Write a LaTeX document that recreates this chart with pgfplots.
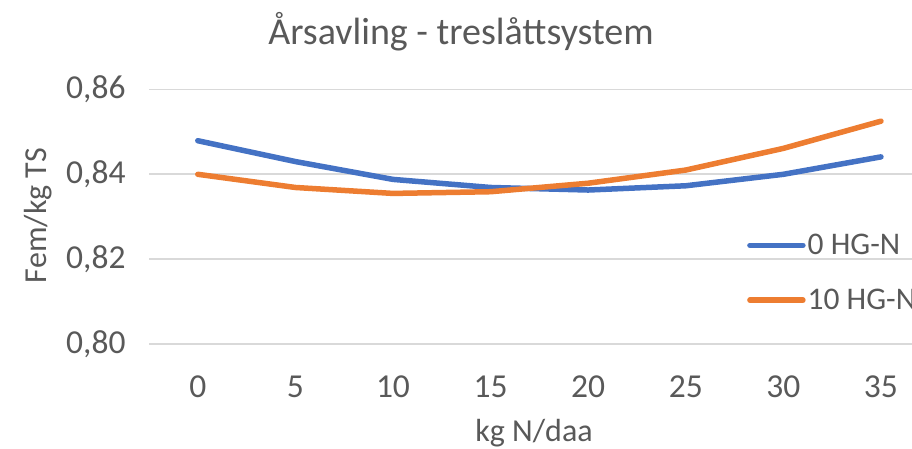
\documentclass[border=0pt]{standalone}
\usepackage{fontspec}
\setmainfont{Carlito}
\usepackage{pgfplots}
\pgfplotsset{compat=1.18}
\definecolor{xlblue}{HTML}{4472C4}
\definecolor{xlorange}{HTML}{ED7D31}
\definecolor{xltext}{HTML}{595959}
\definecolor{xlgrid}{HTML}{D9D9D9}
\begin{document}
\begin{tikzpicture}[x=1pt,y=1pt]
  \begin{axis}[
    at={(149pt,104.7pt)}, anchor=south west,
    width=763pt, height=255pt, scale only axis,
    xmin=-2.5, xmax=36.59, ymin=0.80, ymax=0.86,
    xtick={0,5,10,15,20,25,30,35},
    ytick={0.80,0.82,0.84,0.86},
    ymajorgrids,
    major grid style={xlgrid,line width=1.6pt},
    axis line style={draw=none},
    major tick length=0pt,
    tick label style={font=\fontsize{33.5}{40}\selectfont,text=xltext},
    /pgf/number format/assume math mode=true,
    yticklabel style={/pgf/number format/fixed,/pgf/number format/fixed zerofill,
      /pgf/number format/precision=2,/pgf/number format/use comma,xshift=-20pt},
    xticklabel style={yshift=-28pt},
    clip=false,
    legend style={draw=none,fill=none,inner sep=0pt,
      at={(0.7837,0.44)},anchor=north west,
      font=\fontsize{31.5}{37}\selectfont,text=xltext,
      row sep=29pt},
    legend cell align=left,
    legend image code/.code={\draw[#1,line cap=round] (0pt,0pt) -- (53pt,0pt);},
  ]
    \addplot[xlblue,line width=5.5pt,line join=round,line cap=round] coordinates {
      (0,0.8479) (5,0.8430) (10,0.8388) (15,0.8369) (20,0.8363) (25,0.8373) (30,0.8400) (35,0.8441)
    };
    \addlegendentry{0 HG-N}
    \addplot[xlorange,line width=5.5pt,line join=round,line cap=round] coordinates {
      (0,0.8400) (5,0.8369) (10,0.8355) (15,0.8359) (20,0.8379) (25,0.8410) (30,0.8461) (35,0.8525)
    };
    \addlegendentry{10 HG-N}
  \end{axis}
  \node[font=\fontsize{38}{45}\selectfont,text=xltext] at (461pt,417pt) {Årsavling - treslåttsystem};
  \node[font=\fontsize{32}{38}\selectfont,text=xltext,rotate=90] at (38pt,233.5pt) {Fem/kg TS};
  \node[font=\fontsize{32}{38}\selectfont,text=xltext,anchor=base,inner sep=0pt] at (534pt,7pt) {kg N/daa};
  \pgfresetboundingbox
  \path[use as bounding box] (0pt,0pt) rectangle (912pt,449pt);
\end{tikzpicture}
\end{document}
